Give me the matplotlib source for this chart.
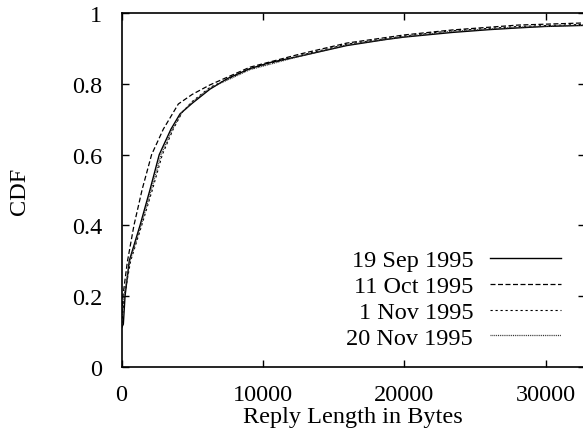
import matplotlib
matplotlib.use("Agg")
import matplotlib.pyplot as plt

plt.rcParams['font.family'] = ['Liberation Serif', 'DejaVu Serif']

# Data
sep19_x = [0, 130, 250, 550, 1310, 2010, 2670, 3500, 4140, 5000, 6260, 7500, 9090, 10500, 12620, 15930, 18670, 20000, 23360, 26000, 28090, 30000, 32768]
sep19_y = [0.11, 0.121, 0.20, 0.30, 0.40, 0.50, 0.60, 0.672, 0.715, 0.745, 0.785, 0.815, 0.843, 0.860, 0.878, 0.908, 0.925, 0.932, 0.945, 0.953, 0.958, 0.962, 0.965]

oct11_x = [0, 100, 410, 880, 1470, 2130, 2960, 4020, 5000, 6260, 9090, 12620, 15930, 20000, 23360, 28090, 32768]
oct11_y = [0.13, 0.20, 0.296, 0.40, 0.503, 0.60, 0.672, 0.743, 0.770, 0.797, 0.847, 0.884, 0.915, 0.938, 0.952, 0.966, 0.972]

nov1_x = [0, 200, 650, 1430, 2180, 2890, 3660, 4300, 5000, 6260, 9090, 12620, 15930, 20000, 23360, 28090, 32768]
nov1_y = [0.11, 0.20, 0.30, 0.40, 0.50, 0.60, 0.672, 0.720, 0.750, 0.790, 0.842, 0.880, 0.912, 0.935, 0.950, 0.962, 0.968]

nov20_x = [0, 180, 600, 1380, 2100, 2800, 3600, 4250, 5000, 6260, 9090, 12620, 15930, 20000, 23360, 28090, 32768]
nov20_y = [0.12, 0.20, 0.30, 0.40, 0.50, 0.60, 0.672, 0.718, 0.748, 0.788, 0.840, 0.878, 0.910, 0.933, 0.948, 0.960, 0.966]

series_labels = ["19 Sep 1995", "11 Oct 1995", "1 Nov 1995", "20 Nov 1995"]

x_ticks = [0, 10000, 20000, 30000]
x_tick_labels = ["0", "10000", "20000", "30000"]
y_ticks = [0, 0.2, 0.4, 0.6, 0.8, 1.0]
y_tick_labels = ["0", "0.2", "0.4", "0.6", "0.8", "1"]

fig = plt.figure(figsize=(5.83, 4.35), dpi=100)
W, H = 583.0, 435.0
left_px, right_px, top_px, bottom_px = 121.5, 584.8, 14.0, 368.0
ax = fig.add_axes([left_px / W, (H - bottom_px) / H, (right_px - left_px) / W, (bottom_px - top_px) / H])

ax.plot(sep19_x, sep19_y, color='black', lw=1.0, ls='-', label=series_labels[0])
ax.plot(oct11_x, oct11_y, color='black', lw=0.9, ls=(0, (4, 2)), label=series_labels[1])
ax.plot(nov1_x, nov1_y, color='black', lw=0.8, ls=(0, (2, 2.5)), label=series_labels[2])
ax.plot(nov20_x, nov20_y, color='#333333', lw=0.9, ls=(0, (0.8, 0.7)), label=series_labels[3])

ax.set_xlim(0, 32768)
ax.set_ylim(0, 1)
ax.set_xticks(x_ticks)
ax.set_xticklabels(x_tick_labels)
ax.set_yticks(y_ticks)
ax.set_yticklabels(y_tick_labels)

fs = 17.5
ax.tick_params(axis='x', which='major', direction='in', length=5, width=1.0,
               top=True, labelsize=fs, pad=12)
ax.tick_params(axis='y', which='major', direction='in', length=5, width=1.0,
               right=True, labelsize=fs, pad=14)
for s in ax.spines.values():
    s.set_linewidth(1.2)

ax.set_xlabel("Reply Length in Bytes", fontsize=fs, labelpad=1)
ax.set_ylabel("CDF", fontsize=fs, labelpad=30)

leg = ax.legend(loc='lower right', bbox_to_anchor=((560.7 - left_px) / (right_px - left_px), (bottom_px - 350) / (bottom_px - top_px)),
                frameon=False, markerfirst=False, fontsize=fs, handlelength=2.9,
                handletextpad=0.7, labelspacing=0.16, borderpad=0, borderaxespad=0)

fig.savefig("out.png", dpi=100)
